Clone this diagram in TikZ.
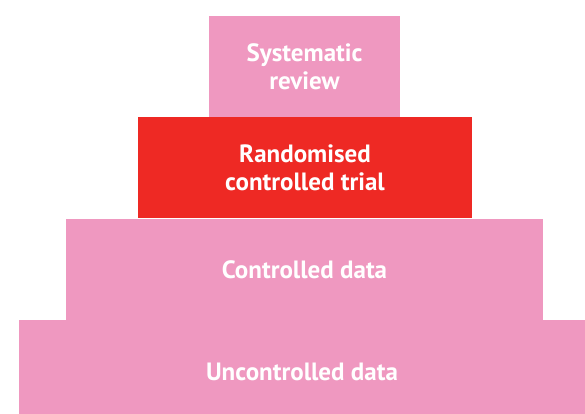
\documentclass[tikz,border=0pt]{standalone}
\usepackage{fontspec}
\setmainfont{PT Sans}
\usepackage{xcolor}
\definecolor{pyrpink}{RGB}{239,152,192}
\definecolor{pyrred}{RGB}{238,41,36}
\tikzset{level/.style={rectangle,fill=pyrpink,inner sep=0pt,text=white,align=center,
  font=\bfseries\fontsize{25}{28}\selectfont}}

\begin{document}
\begin{tikzpicture}[x=1pt,y=-1pt]
                \useasboundingbox (0,0) rectangle (585,414);
                \clip (0,0) rectangle (585,414);
                \node[level,minimum width=191pt,minimum height=101pt] (review) at (304.5,66.5) {Systematic\\review};
                \node[level,fill=pyrred,minimum width=334pt,minimum height=101pt] (trial) at (305,167.5) {Randomised\\controlled trial};
                \node[level,minimum width=477pt,minimum height=101pt] (controlled) at (304.5,269.5) {Controlled data};
                \node[level,minimum width=566pt,minimum height=104pt] (uncontrolled) at (302,372) {Uncontrolled data};
            \end{tikzpicture}
\end{document}
